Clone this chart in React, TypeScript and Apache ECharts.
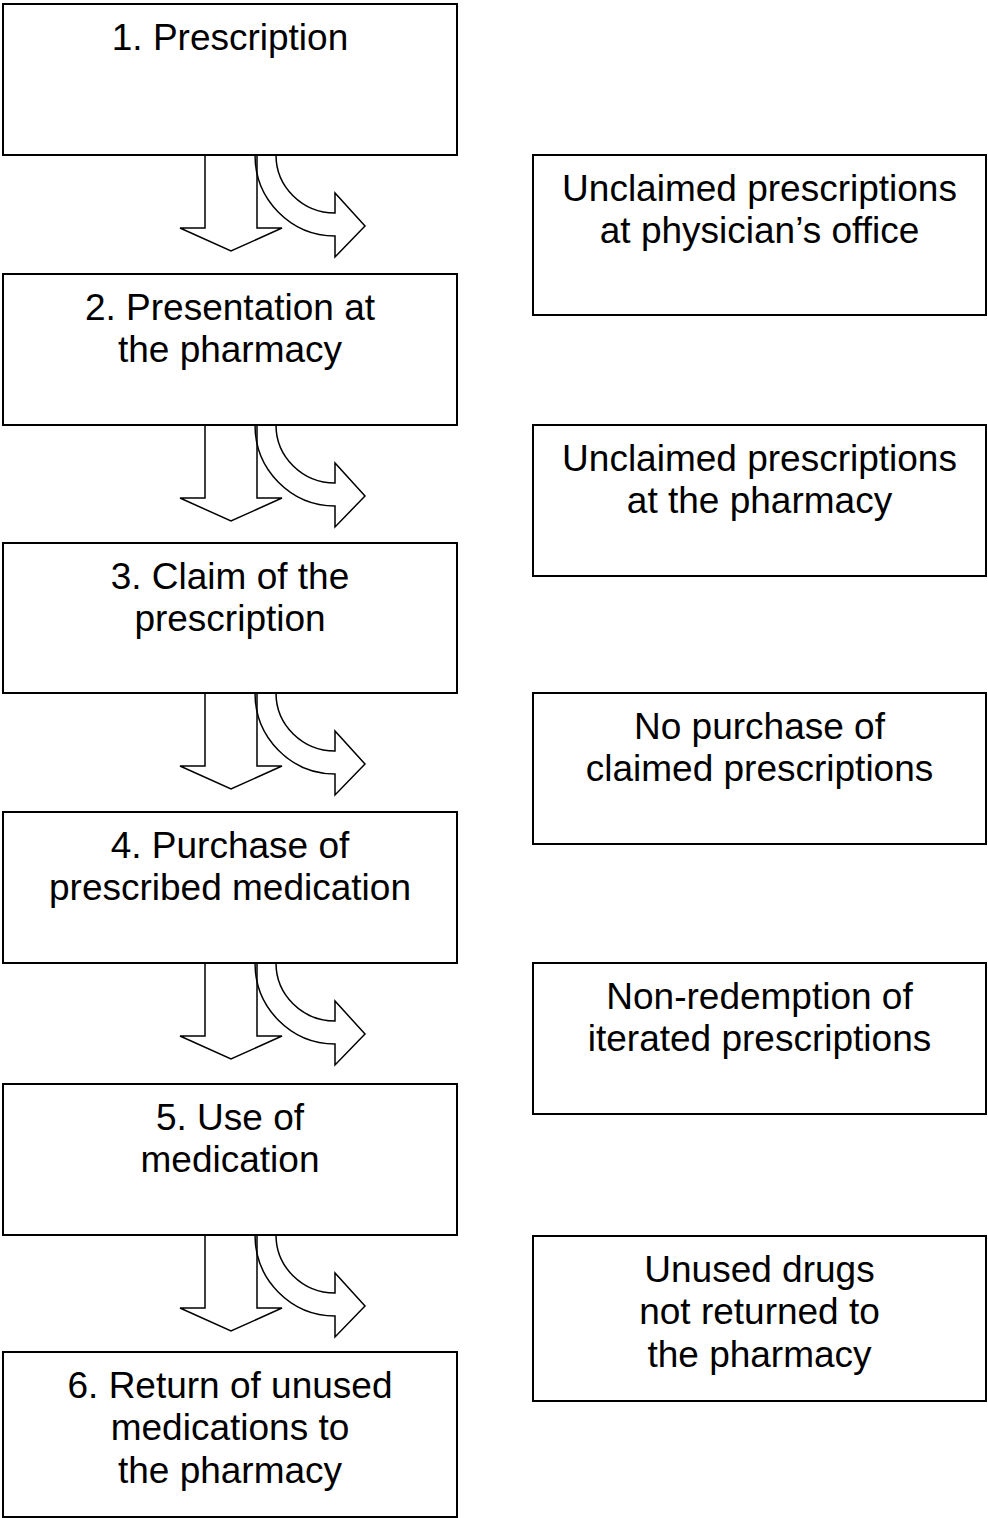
import React, { useEffect, useRef } from "react";
import * as echarts from "echarts";

// ---- Content (texts of the flowchart) ----
const STEPS: string[] = [
  "1. Prescription",
  "2. Presentation at\nthe pharmacy",
  "3. Claim of the\nprescription",
  "4. Purchase of\nprescribed medication",
  "5. Use of\nmedication",
  "6. Return of unused\nmedications to\nthe pharmacy",
];

const LOSSES: string[] = [
  "Unclaimed prescriptions\nat physician\u2019s office",
  "Unclaimed prescriptions\nat the pharmacy",
  "No purchase of\nclaimed prescriptions",
  "Non-redemption of\niterated prescriptions",
  "Unused drugs\nnot returned to\nthe pharmacy",
];

// ---- Layout (pixel positions of the boxes) ----
const LEFT_X = 3;
const LEFT_W = 454;
const STEP_TOPS = [4, 274, 543, 812, 1084, 1352];
const STEP_BOTTOMS = [155, 425, 693, 963, 1235, 1517];

const RIGHT_X = 533;
const RIGHT_W = 453;
const LOSS_TOPS = [155, 425, 693, 963, 1236];
const LOSS_BOTTOMS = [315, 576, 844, 1114, 1401];

const FONT = 'Arial, "Liberation Sans", Helvetica, sans-serif';
const FONT_SIZE = 37;
const LINE_H = 42.5;
const TEXT_OFFSET = 12;

// curved arrow path (local origin at the top-left of the band)
const CURVE_D =
  "M 0 0 C 0 44.7 35.8 81 80 81 L 80 102 L 110 71 L 80 38 L 80 58 C 47.4 58 21 32 21 0 Z";

let registered = false;
function ensureShape() {
  if (registered) return;
  echarts.graphic.registerShape(
    "curvedArrow",
    echarts.graphic.extendPath(CURVE_D, {}) as any
  );
  registered = true;
}

function buildElements() {
  const els: any[] = [];
  const boxStyle = { fill: "#ffffff", stroke: "#000000", lineWidth: 2 };
  const arrowStyle = { fill: "none", stroke: "#000000", lineWidth: 1.5 };

  STEPS.forEach((label, i) => {
    const top = STEP_TOPS[i];
    const bottom = STEP_BOTTOMS[i];
    els.push({
      type: "rect",
      shape: { x: LEFT_X, y: top, width: LEFT_W, height: bottom - top },
      style: boxStyle,
      z: 1,
    });
    els.push({
      type: "text",
      x: LEFT_X + LEFT_W / 2,
      y: top + TEXT_OFFSET,
      style: {
        text: label,
        fill: "#000000",
        font: `${FONT_SIZE}px ${FONT}`,
        fontSize: FONT_SIZE,
        fontFamily: FONT,
        lineHeight: LINE_H,
        align: "center",
        verticalAlign: "top",
      },
      z: 3,
    });
  });

  LOSSES.forEach((label, i) => {
    const top = LOSS_TOPS[i];
    const bottom = LOSS_BOTTOMS[i];
    els.push({
      type: "rect",
      shape: { x: RIGHT_X, y: top, width: RIGHT_W, height: bottom - top },
      style: boxStyle,
      z: 1,
    });
    els.push({
      type: "text",
      x: RIGHT_X + RIGHT_W / 2,
      y: top + TEXT_OFFSET,
      style: {
        text: label,
        fill: "#000000",
        font: `${FONT_SIZE}px ${FONT}`,
        fontSize: FONT_SIZE,
        fontFamily: FONT,
        lineHeight: LINE_H,
        align: "center",
        verticalAlign: "top",
      },
      z: 3,
    });
  });

  // arrows between consecutive steps
  for (let i = 0; i < STEPS.length - 1; i++) {
    const b = STEP_BOTTOMS[i];
    els.push({
      type: "polygon",
      shape: {
        points: [
          [205, b],
          [257, b],
          [257, b + 73],
          [282, b + 73],
          [231, b + 96],
          [180, b + 73],
          [205, b + 73],
        ],
      },
      style: arrowStyle,
      z: 2,
    });
    els.push({
      type: "curvedArrow",
      x: 255,
      y: b,
      style: arrowStyle,
      z: 2,
    });
  }
  return els;
}

export default function App() {
  const ref = useRef<HTMLDivElement>(null);
  useEffect(() => {
    if (!ref.current) return;
    ensureShape();
    const chart = echarts.init(ref.current, undefined, { renderer: "svg" });
    chart.setOption({
      animation: false,
      backgroundColor: "#ffffff",
      graphic: { elements: buildElements() },
    });
    return () => chart.dispose();
  }, []);
  return (
    <div
      ref={ref}
      style={{
        position: "absolute",
        left: 0,
        top: 0,
        width: 988,
        height: 1518,
        background: "#ffffff",
      }}
    />
  );
}
